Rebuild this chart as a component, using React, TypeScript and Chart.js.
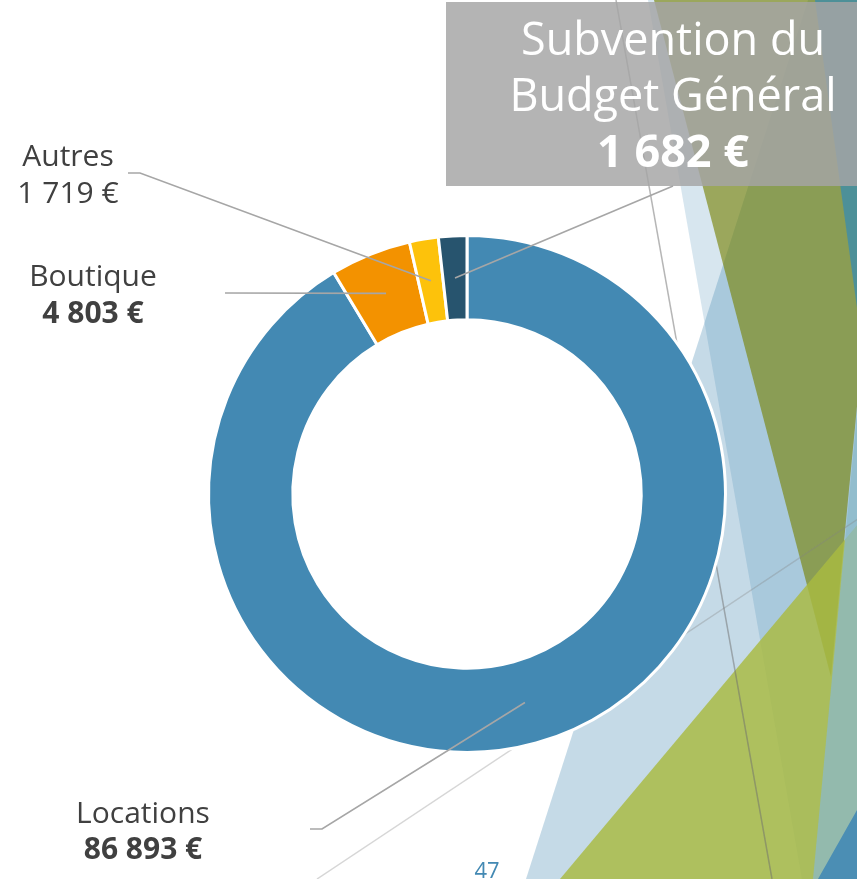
import React, { useEffect, useRef } from 'react';
import { Chart, registerables } from 'chart.js';

Chart.register(...registerables);

// ---- data ----
const categories = ['Locations', 'Boutique', 'Autres', 'Subvention du Budget Général'];
const values = [86893, 4803, 1719, 1682];
const sliceColors = ['#4389B3', '#F39200', '#FDC20B', '#27546E'];
const valueBold = [true, true, false, true];

const fmt = (v: number) => String(v).replace(/\B(?=(\d{3})+(?!\d))/g, ' ') + ' €';

// ---- layout (leader line bends / ends) ----
const leaderPaths: number[][][] = [
  [[322, 829], [310, 829]],
  [[225, 293]],
  [[140, 173], [128, 173]],
  [[673, 186]],
];

const W = 857;
const H = 879;

function poly(ctx: CanvasRenderingContext2D, pts: number[][], fill: string) {
  ctx.beginPath();
  ctx.moveTo(pts[0][0], pts[0][1]);
  for (let i = 1; i < pts.length; i++) ctx.lineTo(pts[i][0], pts[i][1]);
  ctx.closePath();
  ctx.fillStyle = fill;
  ctx.fill();
}

function line(ctx: CanvasRenderingContext2D, a: number[], b: number[], color: string, w: number) {
  ctx.beginPath();
  ctx.moveTo(a[0], a[1]);
  ctx.lineTo(b[0], b[1]);
  ctx.strokeStyle = color;
  ctx.lineWidth = w;
  ctx.stroke();
}

const decorPlugin = {
  id: 'decor',
  beforeDraw(chart: any) {
    const ctx: CanvasRenderingContext2D = chart.ctx;
    ctx.save();
    poly(ctx, [[648, 0], [900, 0], [900, 879], [802, 879]], 'rgba(67,137,179,0.21)');
    poly(ctx, [[808, 0], [900, 0], [900, 879], [526, 879]], 'rgba(67,137,179,0.31)');
    poly(ctx, [[654, 0], [896, 0], [831, 677]], 'rgba(120,131,7,0.63)');
    poly(ctx, [[815, 0], [900, 0], [900, 330], [860, 330]], 'rgba(63,141,170,0.8)');
    poly(ctx, [[560, 879], [900, 474], [900, 879]], 'rgba(170,186,66,0.83)');
    poly(ctx, [[896, 0], [950, 0], [950, 879], [813, 879]], 'rgba(139,185,200,0.75)');
    poly(ctx, [[818, 879], [900, 734], [900, 879]], '#4B8EB4');
    line(ctx, [616, 0], [772, 879], 'rgba(110,110,110,0.5)', 1.5);
    line(ctx, [900, 491], [317, 879], 'rgba(130,130,130,0.33)', 1.5);
    ctx.restore();
  },
  afterDraw(chart: any) {
    const ctx: CanvasRenderingContext2D = chart.ctx;
    const meta = chart.getDatasetMeta(0);
    ctx.save();
    ctx.strokeStyle = '#A6A6A6';
    ctx.lineWidth = 1.6;
    meta.data.forEach((arc: any, i: number) => {
      const p = arc.tooltipPosition(true);
      ctx.beginPath();
      ctx.moveTo(p.x, p.y);
      leaderPaths[i].forEach(([x, y]) => ctx.lineTo(x, y));
      ctx.stroke();
    });
    ctx.restore();
  },
};

const labelFont = '"Open Sans", sans-serif';

function Label({ idx, cx, top, lh }: { idx: number; cx: number; top: number; lh: number }) {
  return (
    <div
      style={{
        position: 'absolute',
        left: cx - 120,
        width: 240,
        top,
        textAlign: 'center',
        fontFamily: labelFont,
        fontSize: 30,
        lineHeight: lh + 'px',
        color: '#404040',
        whiteSpace: 'nowrap',
      }}
    >
      <div>{categories[idx]}</div>
      <div style={{ fontWeight: valueBold[idx] ? 700 : 400 }}>{fmt(values[idx])}</div>
    </div>
  );
}

export default function App() {
  const ref = useRef<HTMLCanvasElement | null>(null);

  useEffect(() => {
    if (!ref.current) return;
    const chart = new Chart(ref.current, {
      type: 'doughnut',
      data: {
        labels: categories,
        datasets: [
          {
            data: values,
            backgroundColor: sliceColors,
            borderColor: '#FFFFFF',
            borderWidth: 3,
            hoverOffset: 0,
          },
        ],
      },
      options: {
        responsive: false,
        animation: false,
        cutout: '67.4%',
        layout: { padding: { left: 207, top: 234, right: 130, bottom: 125 } },
        plugins: { legend: { display: false }, tooltip: { enabled: false } },
        events: [],
      },
      plugins: [decorPlugin],
    } as any);
    return () => chart.destroy();
  }, []);

  const title = categories[3].replace(' Budget', '\nBudget');

  return (
    <div style={{ position: 'absolute', left: 0, top: 0, width: W, height: H, overflow: 'hidden', background: '#fff' }}>
      <canvas ref={ref} width={W} height={H} style={{ position: 'absolute', left: 0, top: 0, width: W, height: H }} />
      <div
        style={{
          position: 'absolute',
          left: 446,
          top: 2,
          width: W - 446,
          height: 184,
          background: 'rgba(165,165,165,0.83)',
        }}
      />
      <div
        style={{
          position: 'absolute',
          left: 673 - 200,
          width: 400,
          top: 10,
          textAlign: 'center',
          fontFamily: labelFont,
          fontSize: 45,
          lineHeight: '56px',
          color: '#FFFFFF',
          whiteSpace: 'pre-line',
        }}
      >
        <div>{title}</div>
        <div style={{ fontWeight: 700 }}>{fmt(values[3])}</div>
      </div>
      <Label idx={2} cx={68} top={136} lh={37} />
      <Label idx={1} cx={93} top={256} lh={37} />
      <Label idx={0} cx={143} top={794} lh={36} />
      <div
        style={{
          position: 'absolute',
          left: 487 - 30,
          width: 60,
          top: 856,
          textAlign: 'center',
          fontFamily: labelFont,
          fontSize: 22,
          lineHeight: '26px',
          color: '#4389B3',
        }}
      >
        47
      </div>
    </div>
  );
}
